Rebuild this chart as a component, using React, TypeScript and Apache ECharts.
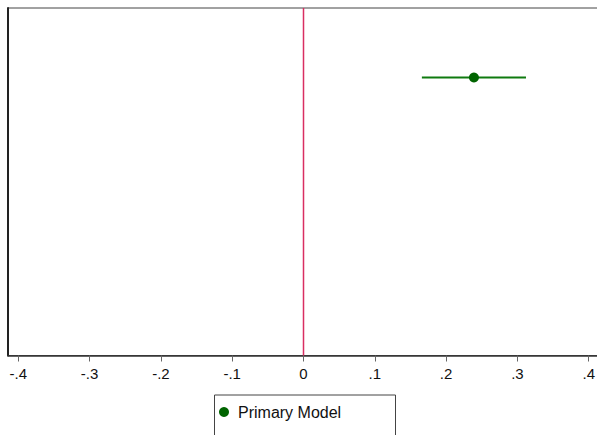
import React, { useEffect, useRef } from "react";
import * as echarts from "echarts";

const seriesName = "Primary Model";
const coefY = [1];
const coefEstimate = [0.239];
const ciLower = [0.166];
const ciUpper = [0.312];
const refLineX = 0;
const xTickValues = [-0.4, -0.3, -0.2, -0.1, 0, 0.1, 0.2, 0.3, 0.4];
const xTickLabels = ["-.4", "-.3", "-.2", "-.1", "0", ".1", ".2", ".3", ".4"];

export default function App() {
  const ref = useRef<HTMLDivElement>(null);
  useEffect(() => {
    if (!ref.current) return;
    const chart = echarts.init(ref.current, undefined, { renderer: "svg" });
    const fmt = (v: number) => {
      const i = xTickValues.findIndex((t) => Math.abs(t - v) < 1e-6);
      return i >= 0 ? xTickLabels[i] : "";
    };
    const ciData: any[] = [];
    coefY.forEach((y, i) => {
      ciData.push([ciLower[i], y]);
      ciData.push([ciUpper[i], y]);
      ciData.push(null);
    });
    chart.setOption({
      animation: false,
      backgroundColor: "#fff",
      textStyle: { fontFamily: "Liberation Sans, Arial, sans-serif" },
      grid: {
        left: 8,
        top: 8,
        width: 595,
        height: 347.5,
        show: true,
        borderColor: "#444",
        borderWidth: 1,
        containLabel: false,
      },
      xAxis: {
        type: "value",
        min: -0.4144,
        max: 0.42,
        splitLine: { show: false },
        axisLine: { show: true, onZero: false, lineStyle: { color: "#333", width: 1.5 } },
        axisTick: {
          show: true,
          length: 6,
          customValues: xTickValues,
          lineStyle: { color: "#666", width: 1 },
        },
        axisLabel: {
          customValues: xTickValues,
          formatter: fmt,
          fontSize: 15,
          color: "#111",
          margin: 10,
          fontFamily: "Liberation Sans, Arial, sans-serif",
        },
      },
      yAxis: {
        type: "value",
        inverse: true,
        min: 0,
        max: 5,
        splitLine: { show: false },
        axisLabel: { show: false },
        axisTick: { show: false },
        axisLine: { show: true, onZero: false, lineStyle: { color: "#222", width: 2 } },
      },
      legend: {
        show: true,
        data: [{ name: seriesName, icon: "circle", itemStyle: { color: "#006400" } }],
        left: 214,
        top: 399,
        itemWidth: 10,
        itemHeight: 10,
        itemGap: 0,
        textStyle: {
          fontSize: 16,
          color: "#111",
          padding: [0, 0, 0, 4],
          fontFamily: "Liberation Sans, Arial, sans-serif",
        },
      },
      graphic: [
        {
          type: "rect",
          left: 212,
          top: 392.5,
          shape: { width: 181, height: 60 },
          style: { fill: "none", stroke: "#444", lineWidth: 1 },
          silent: true,
        },
      ],
      series: [
        {
          type: "line",
          name: "ref",
          data: [
            [refLineX, 0],
            [refLineX, 5],
          ],
          showSymbol: false,
          lineStyle: { color: "#d92e62", width: 1.5 },
          silent: true,
          z: 1,
        },
        {
          type: "line",
          name: seriesName + " CI",
          data: ciData,
          showSymbol: false,
          connectNulls: false,
          lineStyle: { color: "#0f7a0f", width: 2 },
          z: 2,
        },
        {
          type: "scatter",
          name: seriesName,
          data: coefY.map((y, i) => [coefEstimate[i], y]),
          symbol: "circle",
          symbolSize: 10,
          itemStyle: { color: "#006400", opacity: 1 },
          z: 3,
        },
      ],
    });
    return () => chart.dispose();
  }, []);
  return (
    <div
      style={{
        position: "absolute",
        left: 0,
        top: 0,
        width: 597,
        height: 435,
        overflow: "hidden",
        background: "#fff",
      }}
    >
      <div ref={ref} style={{ width: 615, height: 435 }} />
    </div>
  );
}
